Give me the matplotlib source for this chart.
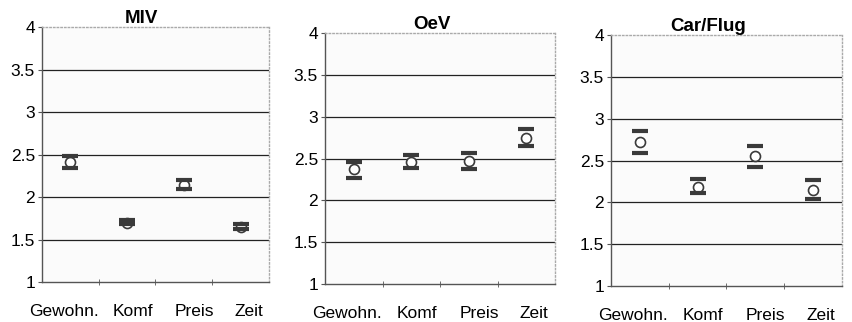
import numpy as np
import matplotlib
matplotlib.use("Agg")
import matplotlib.pyplot as plt
from matplotlib.ticker import FormatStrFormatter, FixedLocator

plt.rcParams['font.family'] = ['Liberation Sans', 'DejaVu Sans']

# data: mean, lower and upper bound per category
categories = ["Gewohn.", "Komf", "Preis", "Zeit"]
titles = ["MIV", "OeV", "Car/Flug"]

miv_mean = [2.41, 1.70, 2.14, 1.65]
miv_lo = [2.34, 1.68, 2.09, 1.62]
miv_hi = [2.48, 1.73, 2.20, 1.68]

oev_mean = [2.38, 2.46, 2.47, 2.74]
oev_lo = [2.27, 2.39, 2.37, 2.65]
oev_hi = [2.46, 2.54, 2.57, 2.85]

car_mean = [2.72, 2.18, 2.55, 2.15]
car_lo = [2.59, 2.11, 2.42, 2.04]
car_hi = [2.85, 2.28, 2.67, 2.27]

panels = [(miv_mean, miv_lo, miv_hi),
          (oev_mean, oev_lo, oev_hi),
          (car_mean, car_lo, car_hi)]

rects = [[0.0493, 0.1242, 0.2664, 0.7919],
         [0.3815, 0.1180, 0.2700, 0.7795],
         [0.7171, 0.1118, 0.2711, 0.7795]]
# labels in the scan sit a bit off the category centres
label_shift = [-0.12, 0.10, 0.18, 0.14]
title_x = [0.44, 0.465, 0.42]

fig = plt.figure(figsize=(8.52, 3.22), dpi=100)
fig.patch.set_facecolor("white")

x = np.arange(len(categories))
dark = "#3a3a3a"

for (mean, lo, hi), title, r, tx in zip(panels, titles, rects, title_x):
    ax = fig.add_axes(r)
    ax.set_facecolor("#fbfbfb")
    # mean as open circle, bounds as thick bars drawn on top
    ax.plot(x, mean, "o", ms=7.2, mfc="white", mec=dark, mew=1.2, zorder=3)
    ax.plot(x, lo, "_", ms=11, mew=3.0, color=dark, zorder=4)
    ax.plot(x, hi, "_", ms=11, mew=3.0, color=dark, zorder=4)

    ax.set_xlim(-0.5, 3.5)
    ax.set_ylim(1, 4)
    ax.set_yticks([1, 1.5, 2, 2.5, 3, 3.5, 4])
    ax.yaxis.set_major_formatter(FormatStrFormatter("%g"))
    ax.set_xticks(x + np.array(label_shift))
    ax.set_xticklabels(categories)
    ax.xaxis.set_minor_locator(FixedLocator([0.5, 1.5, 2.5]))
    ax.tick_params(axis="x", which="major", length=0, pad=16, labelsize=12.5)
    ax.tick_params(axis="x", which="minor", length=4, direction="inout",
                   color="#555555")
    ax.tick_params(axis="y", length=3, pad=2, labelsize=12.5, color="#555555")

    ax.yaxis.grid(True, color="#222222", linewidth=0.9)
    ax.get_ygridlines()[-1].set_visible(False)
    ax.get_ygridlines()[0].set_visible(False)
    ax.set_axisbelow(True)

    for s in ["left", "bottom"]:
        ax.spines[s].set_color("#555555")
        ax.spines[s].set_linewidth(1.0)
    for s in ["top", "right"]:
        ax.spines[s].set_color("#aaaaaa")
        ax.spines[s].set_linestyle(":")
        ax.spines[s].set_linewidth(1.0)

    ax.set_title(title, fontsize=13.5, fontweight="bold", pad=3, x=tx)

fig.savefig("out.png", dpi=100)
